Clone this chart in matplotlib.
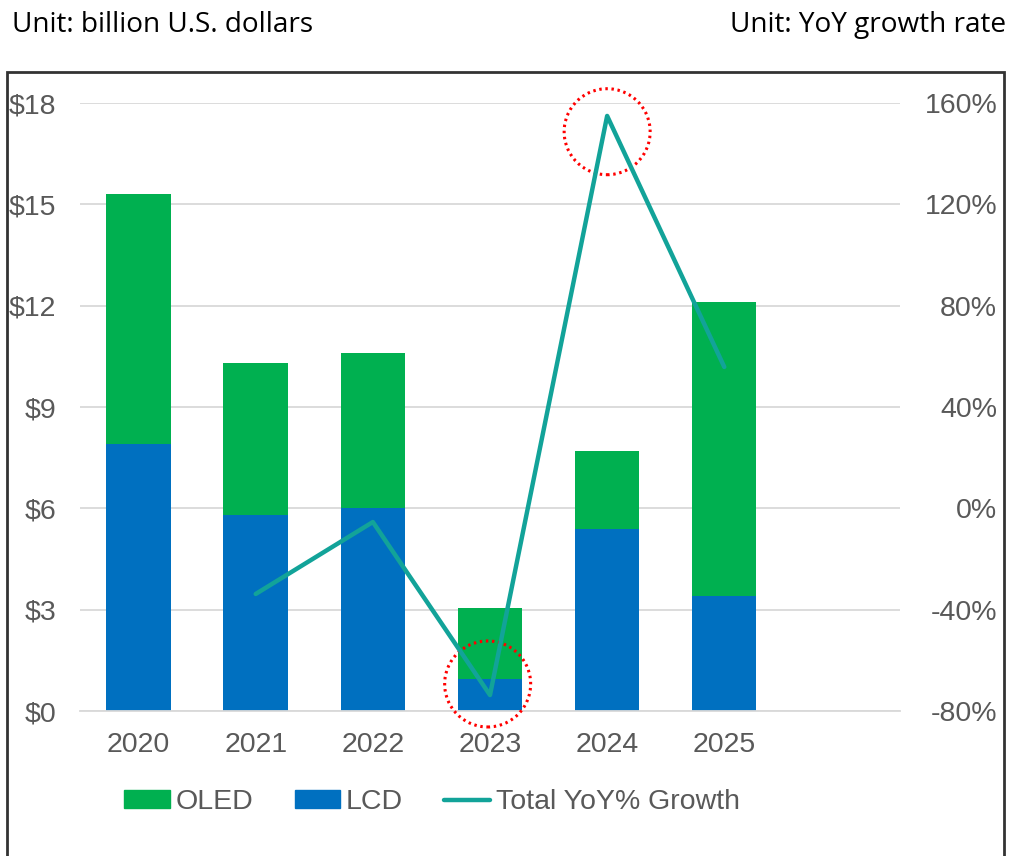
import numpy as np
import matplotlib
matplotlib.use("Agg")
import matplotlib.pyplot as plt
from matplotlib.patches import Ellipse, Rectangle, Patch
from matplotlib.lines import Line2D

# data
years = ["2020", "2021", "2022", "2023", "2024", "2025"]
lcd = [7.9, 5.8, 6.0, 0.95, 5.4, 3.4]
total = [15.3, 10.3, 10.6, 3.05, 7.7, 12.1]
oled = [t - l for t, l in zip(total, lcd)]
yoy_years = ["2021", "2022", "2023", "2024", "2025"]
yoy = [-33.8, -5.4, -73.7, 154.9, 55.8]

left_ticks = [0, 3, 6, 9, 12, 15, 18]
right_ticks = [-80, -40, 0, 40, 80, 120, 160]

GREEN = "#00B050"
BLUE = "#0070C0"
TEAL = "#12A399"
GRAY = "#595959"
FS = 20.5

W, H = 1012, 856
fig = plt.figure(figsize=(W / 100, H / 100), dpi=100)
ax = fig.add_axes([80 / W, 1 - 711 / H, 820 / W, 608 / H])
ax2 = ax.twinx()

x = np.arange(len(years))
ax.bar(x, lcd, width=0.55, color=BLUE, zorder=2)
ax.bar(x, oled, width=0.55, bottom=lcd, color=GREEN, zorder=2)

xi = [years.index(y) for y in yoy_years]
ax2.plot(xi, yoy, color=TEAL, lw=3.2, solid_capstyle="round", zorder=3)

ax.set_xlim(-0.5, 6.5)
ax.set_ylim(0, 18)
ax2.set_ylim(-80, 160)
ax.set_yticks(left_ticks)
ax.set_yticklabels(["$%d" % v for v in left_ticks])
ax2.set_yticks(right_ticks)
ax2.set_yticklabels(["%d%%" % v for v in right_ticks])
ax.set_xticks(x)
ax.set_xticklabels(years)

ax.yaxis.grid(True, color="#D9D9D9", lw=1.3, zorder=0)
ax.set_axisbelow(True)
for a in (ax, ax2):
    for s in a.spines.values():
        s.set_visible(False)
ax.spines["bottom"].set_visible(True)
ax.spines["bottom"].set_color("#D9D9D9")
ax.spines["bottom"].set_linewidth(1.3)

ax.tick_params(axis="y", length=0, pad=17, labelcolor=GRAY, labelsize=FS)
ax.tick_params(axis="x", length=0, pad=15, labelcolor=GRAY, labelsize=FS)
ax2.tick_params(axis="y", length=0, pad=70, labelcolor=GRAY, labelsize=FS)
for lab in ax.get_xticklabels() + ax.get_yticklabels() + ax2.get_yticklabels():
    lab.set_family("Liberation Sans")
for lab in ax2.get_yticklabels():
    lab.set_horizontalalignment("right")

# red dotted highlight circles (pixel radius ~43)
rx = 43 / (820 / 7) * 2
ry = 43 / (608 / 18) * 2
for cx, cy in [(2.98, 0.8), (4.0, 17.15)]:
    ax.add_patch(Ellipse((cx, cy), rx, ry, fill=False, ec="#FF0000",
                         lw=2.2, ls=(0, (0.8, 1.2)), zorder=4, clip_on=False))

# legend
handles = [Patch(color=GREEN, label="OLED"),
           Patch(color=BLUE, label="LCD"),
           Line2D([], [], color=TEAL, lw=3.2, solid_capstyle="round",
                  label="Total YoY% Growth")]
leg = fig.legend(handles=handles, loc="center", bbox_to_anchor=(432 / W, 1 - 802 / H),
                 ncol=3, frameon=False, handlelength=1.6, handleheight=0.55,
                 handletextpad=0.2, columnspacing=1.45,
                 prop={"family": "Liberation Sans", "size": FS})
for t in leg.get_texts():
    t.set_color(GRAY)

# outer border (bottom edge runs off the image)
fig.add_artist(Rectangle((7 / W, -0.05), 997 / W, 1.05 - 72 / H,
                         transform=fig.transFigure, fill=False,
                         ec="#333333", lw=2))

fig.text(12 / W, 1 - 25 / H, "Unit: billion U.S. dollars", ha="left", va="center",
         fontsize=20.2, family="Open Sans", color="black")
fig.text(1006 / W, 1 - 25 / H, "Unit: YoY growth rate", ha="right", va="center",
         fontsize=20.2, family="Open Sans", color="black")

fig.savefig("out.png", dpi=100)
